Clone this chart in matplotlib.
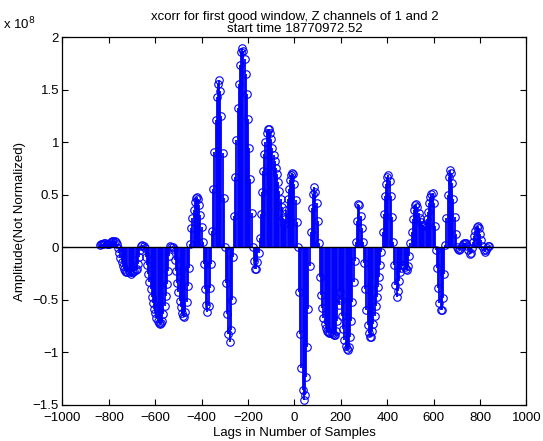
import numpy as np
import matplotlib
matplotlib.use("Agg")
import matplotlib.pyplot as plt
from matplotlib.ticker import FuncFormatter

plt.rcParams['font.family'] = ['Liberation Sans', 'DejaVu Sans']

# lags (samples), read every 5 lags
lag_start, lag_stop, lag_step = -840, 840, 5
lags = np.arange(lag_start, lag_stop + 1, lag_step)

# amplitude in units of 1e8, one value per lag above
amp = [
    # -840 .. -800
    0.02, 0.03, 0.03, 0.03, 0.04, 0.04, 0.03, 0.03, 0.03,
    # -795 .. -760
    0.04, 0.05, 0.06, 0.06, 0.06, 0.05, 0.03, -0.01,
    # -755 .. -645
    -0.05, -0.10, -0.14, -0.18, -0.21, -0.23, -0.24, -0.24, -0.23, -0.24,
    -0.25, -0.24, -0.24, -0.23, -0.22, -0.21, -0.16, -0.09, -0.03, 0.01,
    0.02, 0.01, -0.01,
    # -640 .. -530
    -0.09, -0.17, -0.25, -0.33, -0.40, -0.47, -0.53, -0.59, -0.63, -0.67,
    -0.70, -0.72, -0.73, -0.725, -0.70, -0.64, -0.56, -0.46, -0.35, -0.23,
    -0.08, 0.01, 0.00,
    # -525 .. -450
    0.00, -0.02, -0.12, -0.23, -0.34, -0.43, -0.51, -0.57, -0.63, -0.65,
    -0.66, -0.62, -0.52, -0.37, -0.20, 0.03,
    # -445 .. -395
    0.18, 0.28, 0.36, 0.43, 0.47, 0.48, 0.46, 0.40, 0.31, 0.19, 0.05,
    # -390 .. -360
    -0.16, -0.40, -0.55, -0.615, -0.56, -0.39, -0.16,
    # -355 .. -300
    0.16, 0.56, 0.91, 1.21, 1.43, 1.56, 1.59, 1.49, 1.25, 0.90, 0.47, 0.00,
    # -295 .. -265
    -0.34, -0.64, -0.83, -0.90, -0.79, -0.50, -0.09,
    # -260 .. -180
    0.30, 0.67, 1.02, 1.33, 1.56, 1.74, 1.86, 1.90, 1.87, 1.79,
    1.65, 1.46, 1.22, 0.95, 0.65, 0.33, 0.00,
    # -175 .. -155
    -0.13, -0.21, -0.21, -0.14, -0.05,
    # -150 .. -45
    0.09, 0.32, 0.53, 0.73, 0.89, 1.00, 1.09, 1.13, 1.13, 1.09,
    1.03, 0.95, 0.88, 0.82, 0.76, 0.70, 0.62, 0.54, 0.46, 0.38,
    0.28, 0.22,
    # -40 .. 15
    0.27, 0.36, 0.46, 0.56, 0.64, 0.69, 0.71, 0.70, 0.60, 0.45, 0.24, 0.00,
    # 20 .. 65
    -0.43, -0.83, -1.15, -1.36, -1.45, -1.41, -1.24, -0.95, -0.59, -0.18,
    # 70 .. 105
    0.15, 0.37, 0.51, 0.57, 0.53, 0.42, 0.25, 0.04,
    # 110 .. 260
    -0.28, -0.45, -0.58, -0.67, -0.73, -0.77, -0.80, -0.81, -0.82, -0.82,
    -0.82, -0.83, -0.84, -0.84, -0.80, -0.70, -0.55, -0.43, -0.50, -0.65,
    -0.78, -0.88, -0.94, -0.97, -0.98, -0.95, -0.85, -0.70, -0.52, -0.33,
    -0.13,
    # 265 .. 295
    0.05, 0.25, 0.41, 0.40, 0.30, 0.18, 0.05,
    # 300 .. 375
    -0.15, -0.40, -0.60, -0.74, -0.82, -0.85, -0.85, -0.80, -0.73, -0.65,
    -0.56, -0.47, -0.38, -0.28, -0.17, -0.04,
    # 380 .. 425
    0.15, 0.32, 0.49, 0.60, 0.67, 0.69, 0.63, 0.49, 0.29, 0.05,
    # 430 .. 495
    -0.17, -0.36, -0.47, -0.42, -0.32, -0.24, -0.20, -0.17, -0.17, -0.19,
    -0.21, -0.22, -0.18, -0.08,
    # 500 .. 605
    0.04, 0.15, 0.27, 0.36, 0.40, 0.41, 0.38, 0.33, 0.28, 0.24,
    0.21, 0.20, 0.20, 0.22, 0.27, 0.34, 0.42, 0.48, 0.51, 0.52,
    0.42, 0.20,
    # 610 .. 645
    -0.03, -0.20, -0.39, -0.53, -0.60, -0.60, -0.48, -0.25,
    # 650 .. 700
    0.02, 0.28, 0.50, 0.67, 0.74, 0.71, 0.61, 0.46, 0.29, 0.13, 0.00,
    # 705 .. 840
    -0.02, -0.03, -0.02, 0.01, 0.03, 0.04, 0.04, 0.04, 0.01, -0.03,
    -0.06, -0.05, -0.01, 0.05, 0.11, 0.16, 0.19, 0.20, 0.18, 0.13,
    0.07, 0.01, -0.03, -0.04, -0.03, -0.01, 0.01, 0.01,
]
amp = np.array(amp)
assert len(amp) == len(lags), (len(amp), len(lags))

xticks = [-1000, -800, -600, -400, -200, 0, 200, 400, 600, 800, 1000]
yticks = [-1.5, -1, -0.5, 0, 0.5, 1, 1.5, 2]

title_text = "xcorr for first good window, Z channels of 1 and 2\nstart time 18770972.52"
xlabel_text = "Lags in Number of Samples"
ylabel_text = "Amplitude(Not Normalized)"

fs = 9.5

fig = plt.figure(figsize=(5.43, 4.41), dpi=100)
ax = fig.add_axes([0.115, 0.0821, 0.8546, 0.8333])

ax.vlines(lags, 0, amp, colors='#0000ff', linewidth=1.3)
ax.plot(lags, amp, linestyle='none', marker='o', markersize=5.4,
        markerfacecolor='none', markeredgecolor='#0000ff', markeredgewidth=0.8)
ax.axhline(0, color='black', linewidth=1.0, zorder=3)

ax.set_xlim(-1000, 1000)
ax.set_ylim(-1.5, 2)
ax.set_xticks(xticks)
ax.set_yticks(yticks)

def fmt(v, pos):
    s = ('%g' % v)
    return s.replace('-', '\u2212')

ax.xaxis.set_major_formatter(FuncFormatter(fmt))
ax.yaxis.set_major_formatter(FuncFormatter(fmt))
ax.tick_params(direction='in', top=True, right=True, length=4, width=0.8,
               labelsize=fs)
ax.tick_params(axis='x', pad=5)
ax.tick_params(axis='y', pad=2.5)
for s in ax.spines.values():
    s.set_linewidth(0.9)

ax.set_title(title_text, fontsize=fs, pad=4, linespacing=1.0)
ax.set_xlabel(xlabel_text, fontsize=fs, labelpad=2)
ax.set_ylabel(ylabel_text, fontsize=fs, labelpad=5)
fig.text(0.006, 0.927, r"x 10$^{8}$", fontsize=fs, ha='left', va='bottom')

fig.savefig("out.png", dpi=100)
